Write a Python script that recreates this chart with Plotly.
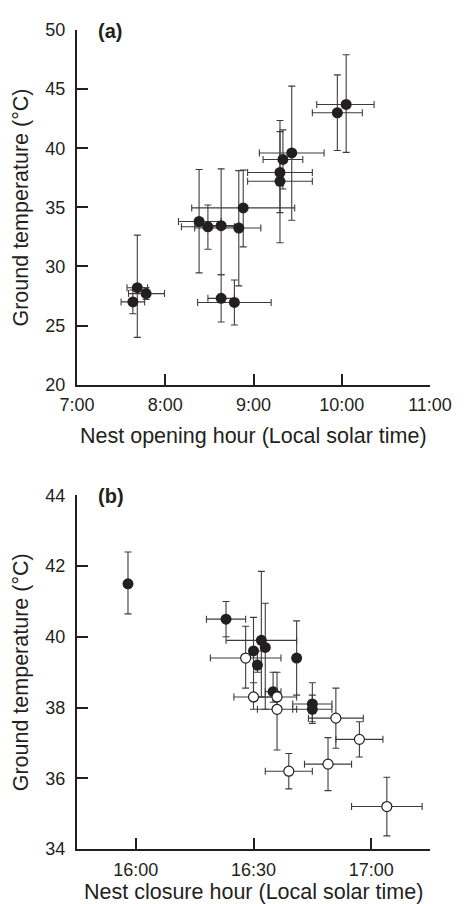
import plotly.graph_objects as go

# ---------------- Panel (a): nest opening ----------------
# opening hour (local solar time, "H:MM"), ground temperature (°C)
open_time = ["9:57", "10:03", "9:26", "9:20", "9:18", "9:18", "8:53", "8:23",
             "8:29", "8:38", "8:50", "7:41", "7:47", "7:38", "8:38", "8:47"]
open_temp = [43.0, 43.7, 39.6, 39.05, 37.95, 37.2, 34.95, 33.8,
             33.35, 33.45, 33.25, 28.2, 27.7, 27.0, 27.3, 26.95]
# error bars: temperature (°C) up / down, time (minutes) plus / minus
open_temp_up = [3.2, 4.2, 5.65, 2.5, 4.4, 4.2, 3.2, 4.4,
                1.85, 4.8, 4.85, 4.45, 0.5, 1.0, 2.0, 1.9]
open_temp_dn = [3.2, 4.05, 5.7, 2.5, 3.4, 5.2, 3.3, 4.35,
                1.9, 4.15, 4.9, 4.2, 0.5, 1.0, 2.0, 1.9]
open_time_plus = [17, 19, 22, 13.5, 22, 22, 35, 15,
                  18, 12, 15, 7, 12.5, 8, 9, 25]
open_time_minus = [17, 20, 22, 13.5, 22, 22, 35, 14,
                   18, 12, 30, 7, 12, 8, 9, 25]

# ---------------- Panel (b): nest closure ----------------
close_time_filled = ["15:58", "16:23", "16:32", "16:33", "16:30", "16:31",
                     "16:41", "16:35", "16:45", "16:45"]
close_temp_filled = [41.5, 40.5, 39.9, 39.7, 39.6, 39.2, 39.4, 38.45, 38.1, 37.95]
filled_temp_up = [0.9, 0.5, 1.95, 1.25, 0.95, 0.4, 1.05, 0.55, 0.6, 0.4]
filled_temp_dn = [0.85, 0.5, 1.6, 1.75, 1.3, 0.2, 1.05, 0.3, 0.5, 0.4]
filled_time_err = [0, 5, 9, 0, 0, 0, 0, 2, 5, 5]

close_time_open = ["16:28", "16:30", "16:36", "16:36", "16:51", "16:57",
                   "16:49", "16:39", "17:04"]
close_temp_open = [39.4, 38.3, 38.3, 37.95, 37.7, 37.1, 36.4, 36.2, 35.2]
open_sym_temp_up = [0.9, 0.4, 0.7, 0.3, 0.85, 0.5, 0.75, 0.5, 0.83]
open_sym_temp_dn = [0.85, 0.35, 0.3, 1.15, 0.85, 0.5, 0.75, 0.5, 0.83]
open_sym_time_err = [9, 5, 5, 5, 7, 6, 6, 6, 9]

# axis ticks
a_x_ticks = [7, 8, 9, 10, 11]
a_x_labels = ["7:00", "8:00", "9:00", "10:00", "11:00"]
a_y_ticks = [20, 25, 30, 35, 40, 45, 50]
b_x_ticks = [16, 16.5, 17]
b_x_labels = ["16:00", "16:30", "17:00"]
b_y_ticks = [34, 36, 38, 40, 42, 44]


def to_hours(s):
    h, m = s.split(":")
    return int(h) + int(m) / 60.0


def mins(v):
    return [x / 60.0 for x in v]


INK = "#231f20"
BAR = "#3c3c3c"
FONT = "Liberation Sans, Arial, sans-serif"

fig = go.Figure()

fig.add_trace(go.Scatter(
    x=[to_hours(t) for t in open_time], y=open_temp, mode="markers",
    marker=dict(color=INK, size=11, line=dict(width=0)),
    error_y=dict(type="data", symmetric=False, array=open_temp_up,
                 arrayminus=open_temp_dn, color=BAR, thickness=1.1, width=3.5),
    error_x=dict(type="data", symmetric=False, array=mins(open_time_plus),
                 arrayminus=mins(open_time_minus), color=BAR, thickness=1.1, width=3.5),
    xaxis="x", yaxis="y", showlegend=False,
))

fig.add_trace(go.Scatter(
    x=[to_hours(t) for t in close_time_filled], y=close_temp_filled, mode="markers",
    marker=dict(color=INK, size=11, line=dict(width=0)),
    error_y=dict(type="data", symmetric=False, array=filled_temp_up,
                 arrayminus=filled_temp_dn, color=BAR, thickness=1.1, width=3.5),
    error_x=dict(type="data", array=mins(filled_time_err), color=BAR,
                 thickness=1.1, width=3.5),
    xaxis="x2", yaxis="y2", showlegend=False,
))

fig.add_trace(go.Scatter(
    x=[to_hours(t) for t in close_time_open], y=close_temp_open, mode="markers",
    marker=dict(color="white", size=10, line=dict(width=1.2, color=INK)),
    error_y=dict(type="data", symmetric=False, array=open_sym_temp_up,
                 arrayminus=open_sym_temp_dn, color=BAR, thickness=1.1, width=3.5),
    error_x=dict(type="data", array=mins(open_sym_time_err), color=BAR,
                 thickness=1.1, width=3.5),
    xaxis="x2", yaxis="y2", showlegend=False,
))

axis_common = dict(
    showline=True, linecolor=INK, linewidth=2, ticks="inside", ticklen=11,
    tickwidth=1.6, tickcolor=INK, showgrid=False, zeroline=False,
    tickfont=dict(family=FONT, size=18, color=INK), mirror=False,
)

# page body has an 8px default margin, so the figure is 8px smaller and
# margins are reduced by 8px to keep the plot where the reference has it
fig.update_layout(
    width=456, height=896,
    margin=dict(l=69, r=26, t=12, b=55),
    paper_bgcolor="white", plot_bgcolor="white",
    font=dict(family=FONT, color=INK),
    xaxis=dict(domain=[0, 1], range=[7, 11], tickvals=a_x_ticks, ticktext=a_x_labels,
               anchor="y", ticklabelstandoff=3, **axis_common),
    yaxis=dict(domain=[0.567, 1], range=[20, 50], tickvals=a_y_ticks, anchor="x",
               ticklabelstandoff=6, **axis_common),
    xaxis2=dict(domain=[0, 1], range=[15.75, 17.25], tickvals=b_x_ticks,
                ticktext=b_x_labels, anchor="y2", ticklabelstandoff=3, **axis_common),
    yaxis2=dict(domain=[0, 0.4318], range=[34, 44], tickvals=b_y_ticks, anchor="x2",
                ticklabelstandoff=6, **axis_common),
)

title_font = dict(family=FONT, size=21.5, color=INK)
annotations = [
    dict(text="Nest opening hour (Local solar time)", xref="paper", yref="paper",
         x=0.5, y=0.5042, xanchor="center", yanchor="middle", showarrow=False,
         font=title_font),
    dict(text="Nest closure hour (Local solar time)", xref="paper", yref="paper",
         x=0.5, y=-0.053, xanchor="center", yanchor="middle", showarrow=False,
         font=title_font),
    dict(text="Ground temperature (°C)", xref="paper", yref="paper",
         x=-0.158, y=0.7835, xanchor="center", yanchor="middle", textangle=-90,
         showarrow=False, font=title_font),
    dict(text="Ground temperature (°C)", xref="paper", yref="paper",
         x=-0.158, y=0.216, xanchor="center", yanchor="middle", textangle=-90,
         showarrow=False, font=title_font),
    dict(text="<b>(a)</b>", xref="paper", yref="paper", x=0.0526, y=0.9988,
         xanchor="left", yanchor="middle", showarrow=False,
         font=dict(family=FONT, size=20, color=INK)),
    dict(text="<b>(b)</b>", xref="paper", yref="paper", x=0.0526, y=0.4306,
         xanchor="left", yanchor="middle", showarrow=False,
         font=dict(family=FONT, size=20, color=INK)),
]
fig.update_layout(annotations=annotations)

fig.write_html("out.html")
